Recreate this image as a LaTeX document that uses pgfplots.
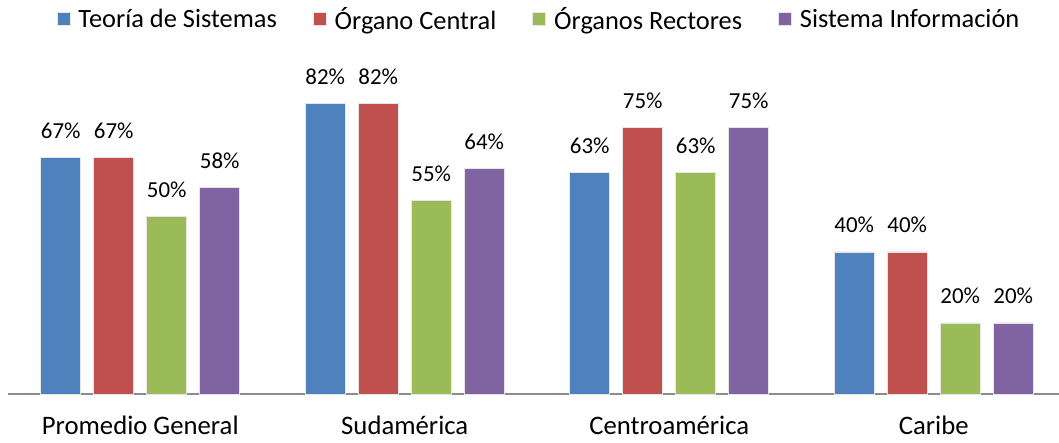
\documentclass[border=0pt]{standalone}
\usepackage{pgfplots}
\pgfplotsset{compat=1.18}
\usepackage{fontspec}
\setmainfont{Carlito}
\definecolor{cBlue}{HTML}{4F81BD}
\definecolor{cRed}{HTML}{C0504D}
\definecolor{cGreen}{HTML}{9BBB59}
\definecolor{cPurple}{HTML}{8064A2}
\begin{document}
\begin{tikzpicture}[x=1bp,y=1bp]
\begin{axis}[
  at={(8bp,49bp)}, anchor=south west,
  scale only axis,
  width=1058bp, height=355bp,
  xmin=-0.5, xmax=3.5, ymin=0, ymax=100,
  ybar=13bp, bar width=40bp,
  axis x line=bottom, axis y line=none,
  x axis line style={draw=black!45, line width=1.6bp, -},
  xtick={0,1,2,3}, xtick style={draw=none},
  xticklabels={Promedio General, Sudamérica, Centroamérica, Caribe},
  xticklabel style={anchor=base, yshift=-38bp, font=\fontsize{26.8}{30}\selectfont},
  /pgf/number format/assume math mode=true,
  nodes near coords={\pgfmathprintnumber[fixed,precision=0]{\pgfplotspointmeta}\%},
  every node near coord/.append style={anchor=base, yshift=19bp, font=\fontsize{23}{27}\selectfont, text=black},
  clip=false,
  legend columns=4,
  legend style={draw=none, fill=none, at={(531bp,375bp)}, anchor=center,
    font=\fontsize{26.5}{30}\selectfont,
    /tikz/every odd column/.append style={column sep=6bp},
    /tikz/every even column/.append style={column sep=34bp}},
  legend image code/.code={\fill[#1] (0bp,-6.5bp) rectangle (13bp,6.5bp);},
  every axis plot/.append style={draw=black!10, line width=0.8bp},
]
\addplot[fill=cBlue] coordinates {(0,66.7) (1,81.8) (2,62.5) (3,40)};
\addplot[fill=cRed] coordinates {(0,66.7) (1,81.8) (2,75) (3,40)};
\addplot[fill=cGreen] coordinates {(0,50) (1,54.5) (2,62.5) (3,20)};
\addplot[fill=cPurple] coordinates {(0,58.3) (1,63.6) (2,75) (3,20)};
\legend{Teoría de Sistemas, Órgano Central, Órganos Rectores, Sistema Información}
\end{axis}
\pgfresetboundingbox
\path[use as bounding box] (0bp,0bp) rectangle (1059bp,443bp);
\end{tikzpicture}
\end{document}
